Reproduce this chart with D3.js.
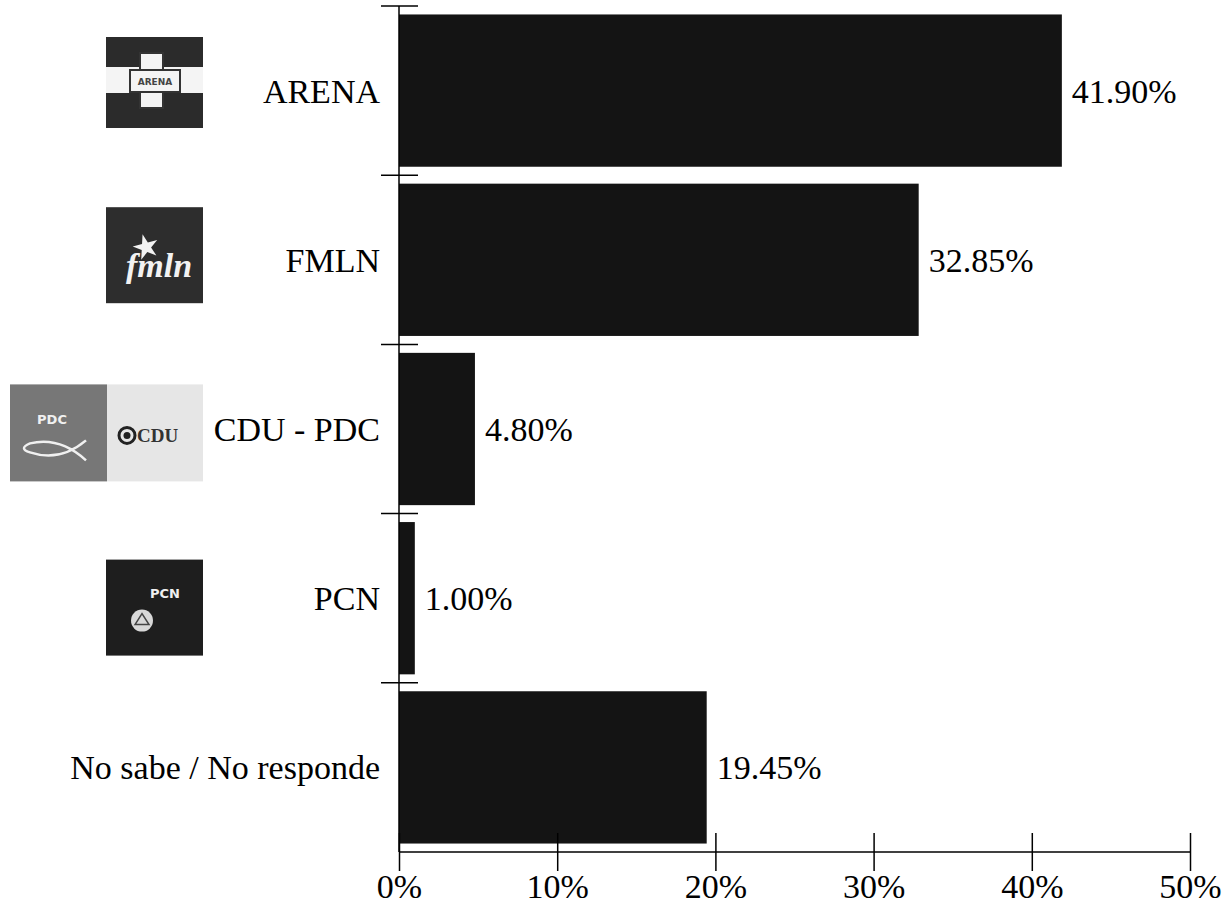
<!DOCTYPE html>
<html><head><meta charset="utf-8">
<script src="https://cdn.jsdelivr.net/npm/d3@7"></script>
<style>body{margin:0;background:#fff}svg{display:block}</style>
</head><body>
<svg id="c" width="1224" height="906"></svg>
<script>
const categories = ["ARENA", "FMLN", "CDU - PDC", "PCN", "No sabe / No responde"];
const values = [41.90, 32.85, 4.80, 1.00, 19.45];
const valueLabels = ["41.90%", "32.85%", "4.80%", "1.00%", "19.45%"];
const xTicks = [0, 10, 20, 30, 40, 50];
const xTickLabels = ["0%", "10%", "20%", "30%", "40%", "50%"];

const svg = d3.select("#c");
const font = "'Liberation Serif','Times New Roman',serif";
const x = d3.scaleLinear().domain([0, 50]).range([399, 1190]);
const y = d3.scaleBand().domain(categories).range([6, 852]).paddingInner(0.1).paddingOuter(0.05);
const step = y.step();
const bandTop = c => y(c) - y.paddingInner() * step / 2;

// bars
svg.selectAll("rect.bar").data(categories).enter().append("rect")
  .attr("class", "bar").attr("x", x(0)).attr("y", d => y(d))
  .attr("width", (d, i) => x(values[i]) - x(0)).attr("height", y.bandwidth())
  .attr("fill", "#141414");

// value labels
svg.selectAll("text.val").data(categories).enter().append("text")
  .attr("x", (d, i) => x(values[i]) + 10).attr("y", d => y(d) + y.bandwidth() / 2)
  .attr("dy", "0.35em").attr("font-family", font).attr("font-size", 34).attr("fill", "#000")
  .text((d, i) => valueLabels[i]);

// category labels
svg.selectAll("text.cat").data(categories).enter().append("text")
  .attr("x", 380).attr("y", d => y(d) + y.bandwidth() / 2)
  .attr("dy", "0.35em").attr("text-anchor", "end").attr("font-family", font).attr("font-size", 34)
  .text(d => d);

// y axis
const axisStroke = "#000";
svg.append("line").attr("x1", x(0)).attr("x2", x(0)).attr("y1", 6).attr("y2", 852)
  .attr("stroke", axisStroke).attr("stroke-width", 1.5);
const boundaries = categories.map(c => bandTop(c));
svg.selectAll("line.yt").data(boundaries).enter().append("line")
  .attr("x1", x(0) - 18).attr("x2", x(0) + 19).attr("y1", d => d).attr("y2", d => d)
  .attr("stroke", axisStroke).attr("stroke-width", 1.5);

// x axis
const xAxis = d3.axisBottom(x).tickValues(xTicks).tickSize(19).tickPadding(10)
  .tickFormat((d, i) => xTickLabels[i]);
const gx = svg.append("g").attr("transform", "translate(0,852)").call(xAxis);
gx.select(".domain").attr("d", `M${x(0)},0H${x(50)}`).attr("stroke-width", 1.5);
gx.selectAll(".tick line").attr("y1", -19).attr("stroke-width", 1.5);
gx.selectAll(".tick text").attr("font-family", font).attr("font-size", 34).attr("fill", "#000").attr("dy", "0.5em");

// logos
const lg = svg.append("g");
// ARENA
(function(){
  const t = bandTop("ARENA") + 31, l = 106;
  lg.append("rect").attr("x", l).attr("y", t).attr("width", 97).attr("height", 91).attr("fill", "#2b2b2b");
  lg.append("rect").attr("x", l).attr("y", t + 30).attr("width", 97).attr("height", 26).attr("fill", "#f4f4f4");
  lg.append("rect").attr("x", l + 34).attr("y", t + 16).attr("width", 23).attr("height", 55).attr("fill", "#f4f4f4").attr("stroke", "#333").attr("stroke-width", 2);
  lg.append("rect").attr("x", l + 24).attr("y", t + 33).attr("width", 50).attr("height", 22).attr("fill", "#f4f4f4").attr("stroke", "#333").attr("stroke-width", 2);
  lg.append("rect").attr("x", l + 35).attr("y", t + 34).attr("width", 21).attr("height", 20).attr("fill", "#f4f4f4");
  lg.append("text").attr("x", l + 49).attr("y", t + 48).attr("text-anchor", "middle").attr("font-family", "'DejaVu Sans',sans-serif")
    .attr("font-size", 9).attr("font-weight", "bold").attr("fill", "#444").text("ARENA");
})();
// FMLN
(function(){
  const t = bandTop("FMLN") + 32, l = 106;
  lg.append("rect").attr("x", l).attr("y", t).attr("width", 97).attr("height", 96).attr("fill", "#2d2d2d");
  const star = d3.symbol().type(d3.symbolStar).size(200);
  lg.append("path").attr("d", star()).attr("transform", `translate(${l + 40},${t + 40}) rotate(-15)`).attr("fill", "#f2f2f2");
  lg.append("text").attr("x", l + 20).attr("y", t + 70).attr("font-family", font).attr("font-style", "italic")
    .attr("font-weight", "bold").attr("font-size", 34).attr("fill", "#f2f2f2").text("fmln");
})();
// CDU - PDC
(function(){
  const t = bandTop("CDU - PDC") + 40;
  lg.append("rect").attr("x", 10).attr("y", t).attr("width", 97).attr("height", 97).attr("fill", "#777");
  lg.append("rect").attr("x", 107).attr("y", t).attr("width", 96).attr("height", 97).attr("fill", "#e6e6e6");
  lg.append("text").attr("x", 52).attr("y", t + 40).attr("text-anchor", "middle").attr("font-family", "'DejaVu Sans',sans-serif")
    .attr("font-weight", "bold").attr("font-size", 13).attr("fill", "#f0f0f0").text("PDC");
  lg.append("path").attr("d", `M${86},${t + 56}Q60,${t + 78} 30,${t + 68}Q18,${t + 64} 30,${t + 59}Q60,${t + 52} ${86},${t + 76}`)
    .attr("fill", "none").attr("stroke", "#f0f0f0").attr("stroke-width", 2.5);
  lg.append("circle").attr("cx", 127).attr("cy", t + 51).attr("r", 8).attr("fill", "none").attr("stroke", "#222").attr("stroke-width", 3);
  lg.append("circle").attr("cx", 127).attr("cy", t + 51).attr("r", 3.5).attr("fill", "#222");
  lg.append("text").attr("x", 137).attr("y", t + 58).attr("font-family", font).attr("font-weight", "bold")
    .attr("font-size", 19).attr("fill", "#333").text("CDU");
})();
// PCN
(function(){
  const t = bandTop("PCN") + 46, l = 106;
  lg.append("rect").attr("x", l).attr("y", t).attr("width", 97).attr("height", 96).attr("fill", "#1e1e1e");
  lg.append("text").attr("x", l + 59).attr("y", t + 38).attr("text-anchor", "middle").attr("font-family", "'DejaVu Sans',sans-serif")
    .attr("font-weight", "bold").attr("font-size", 13).attr("fill", "#f0f0f0").text("PCN");
  lg.append("circle").attr("cx", l + 36).attr("cy", t + 61).attr("r", 11).attr("fill", "#d8d8d8");
  lg.append("path").attr("d", `M${l + 29},${t + 65}L${l + 36},${t + 54}L${l + 43},${t + 65}Z`).attr("fill", "none").attr("stroke", "#444").attr("stroke-width", 1.5);
})();
</script>
</body></html>
